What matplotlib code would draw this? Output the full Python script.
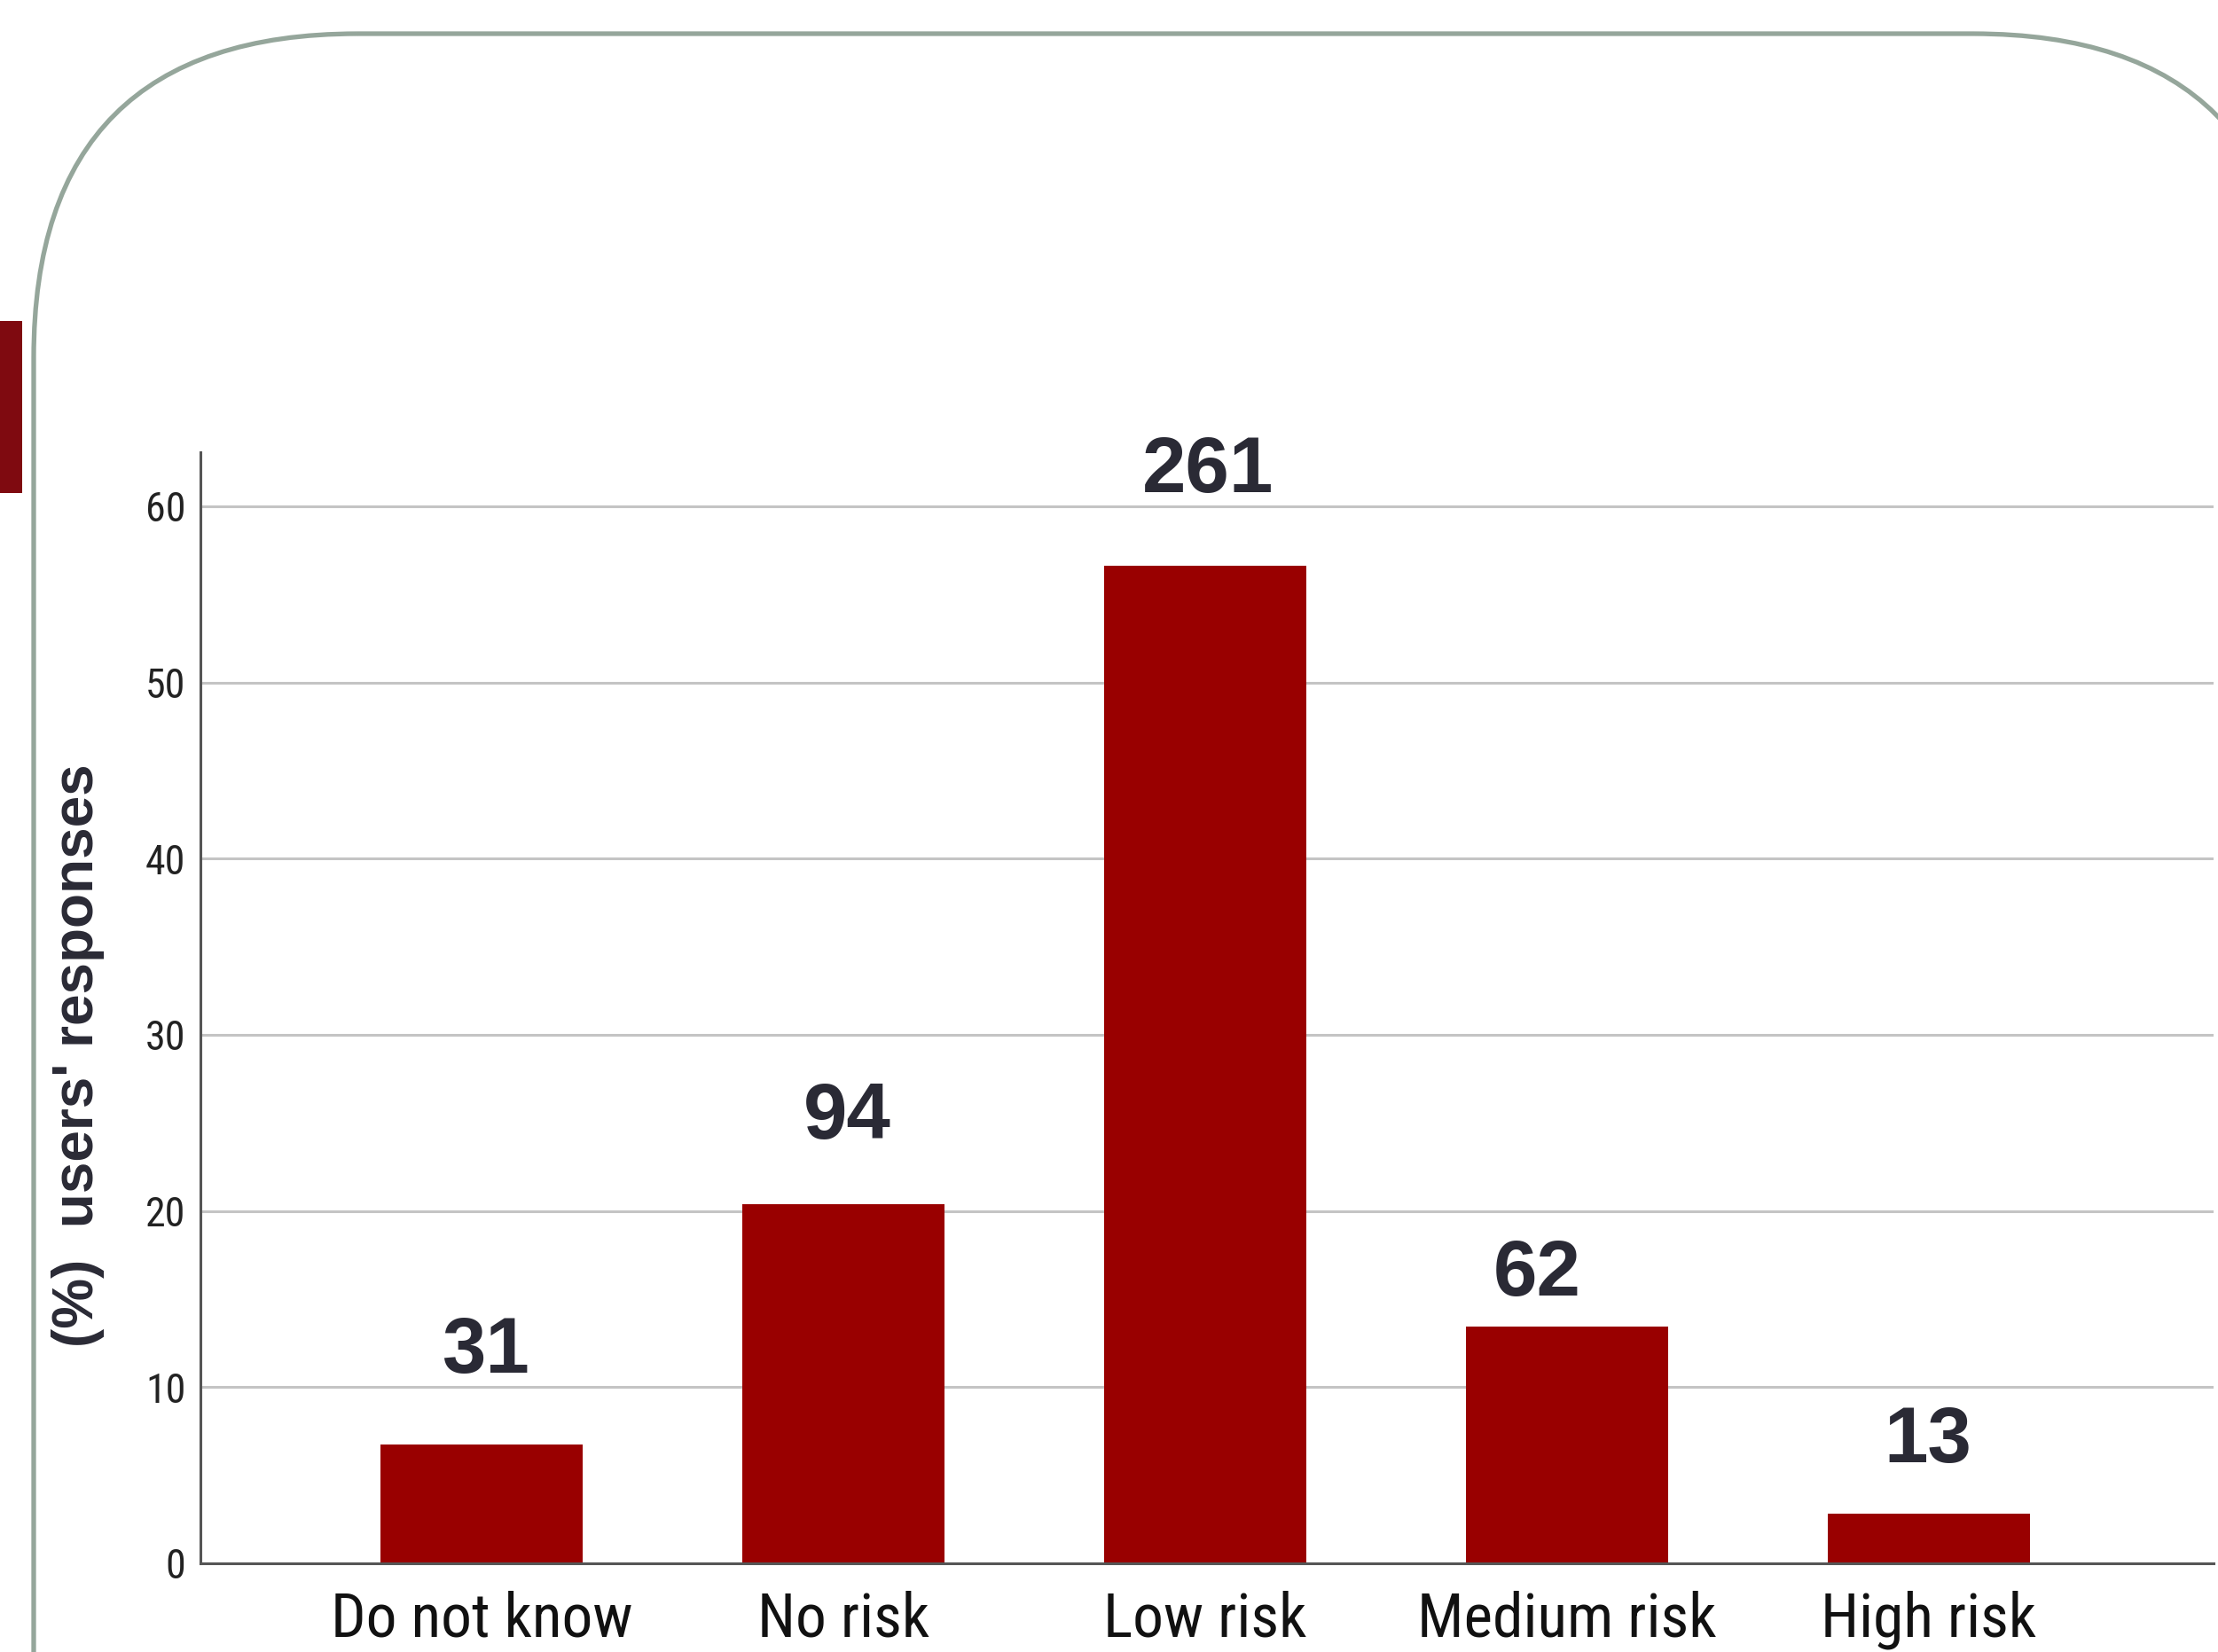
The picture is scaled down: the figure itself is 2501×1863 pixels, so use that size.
import matplotlib
matplotlib.use("Agg")
import matplotlib.pyplot as plt
from matplotlib import font_manager
from matplotlib.patches import FancyBboxPatch, Rectangle

# --- dati: percezione del rischio (risposte degli utenti) ---
categorie = ["Do not know", "No risk", "Low risk", "Medium risk", "High risk"]
percentuali = [6.72, 20.39, 56.62, 13.45, 2.82]
conteggi = [31, 94, 261, 62, 13]
tick_y = [0, 10, 20, 30, 40, 50, 60]

# spostamenti delle etichette sopra le barre (punti)
dx_etichette = [3, 3, 2, -24, -1]
dy_etichette = [59, 53, 60, 25, 42]

ROSSO = "#990000"
TESTO = "#2a2a35"

# cerca un carattere stretto per le etichette degli assi
fonts = font_manager.fontManager.ttflist
nomi = {f.name for f in fonts}
stretto = None
for candidato in ["Liberation Sans Narrow", "Roboto Condensed", "Open Sans Condensed",
                  "Noto Sans Condensed", "DejaVu Sans Condensed"]:
    if candidato in nomi:
        stretto = dict(family=[candidato, "DejaVu Sans"])
        break
if stretto is None:
    cond = [f for f in fonts if f.stretch in ("condensed", "semi-condensed", 600, 500) or
            (isinstance(f.stretch, str) and "condensed" in f.stretch)]
    if cond:
        stretto = dict(family=[cond[0].name, "DejaVu Sans"], fontstretch="condensed")
if stretto is None:
    stretto = dict(family=["DejaVu Sans"])
    size_x, size_y = 39, 25
else:
    size_x, size_y = 50, 33

W, H = 2501, 1863
fig = plt.figure(figsize=(W / 100, H / 100), dpi=100)
fig.patch.set_facecolor("white")

# --- sfondo: cornice arrotondata e marcatore rosso (coordinate in pixel) ---
sfondo = fig.add_axes([0, 0, 1, 1])
sfondo.set_xlim(0, W)
sfondo.set_ylim(H, 0)
sfondo.axis("off")
cornice = FancyBboxPatch((38, 38), 2552, 3000,
                         boxstyle="round,pad=0,rounding_size=365",
                         facecolor="none", edgecolor="#95a69b", linewidth=3.8)
sfondo.add_patch(cornice)
sfondo.add_patch(Rectangle((0, 362), 25, 194, facecolor="#7f0a10", edgecolor="none"))

# --- grafico a barre ---
ax = fig.add_axes([226 / W, 1 - 1763 / H, (2496 - 226) / W, (1763 - 510) / H])
ax.set_facecolor("none")
x = list(range(len(categorie)))
barre = ax.bar(x, percentuali, width=0.56, color=ROSSO, zorder=3)

ax.set_xlim(-0.777, 4.787)
ax.set_ylim(0, 63.06)
ax.set_yticks(tick_y)
ax.set_xticks(x)
ax.set_xticklabels(categorie, fontsize=size_x, color="#111111", **stretto)
ax.set_yticklabels([str(v) for v in tick_y], fontsize=size_y, color="#222222", **stretto)
ax.tick_params(axis="both", length=0)
ax.tick_params(axis="x", pad=22)
ax.tick_params(axis="y", pad=12)

ax.grid(axis="y", color="#c4c4c4", linewidth=2.2, zorder=0)
for lato in ["top", "right"]:
    ax.spines[lato].set_visible(False)
for lato in ["left", "bottom"]:
    ax.spines[lato].set_color("#555555")
    ax.spines[lato].set_linewidth(2.2)
    ax.spines[lato].set_zorder(4)

for i, (b, n) in enumerate(zip(barre, conteggi)):
    ax.annotate(str(n), xy=(b.get_x() + b.get_width() / 2, b.get_height()),
                xytext=(dx_etichette[i], dy_etichette[i]), textcoords="offset points",
                ha="center", va="baseline", family=["Liberation Sans", "DejaVu Sans"],
                fontweight="bold", fontsize=64, color=TESTO, zorder=5)

fig.text(88 / W, 1 - 1190 / H, "(%)  users' responses", rotation=90,
         ha="center", va="center", family=["Liberation Sans", "DejaVu Sans"],
         fontweight="bold", fontsize=46, color=TESTO)

fig.savefig("out.png", dpi=100, facecolor="white")
